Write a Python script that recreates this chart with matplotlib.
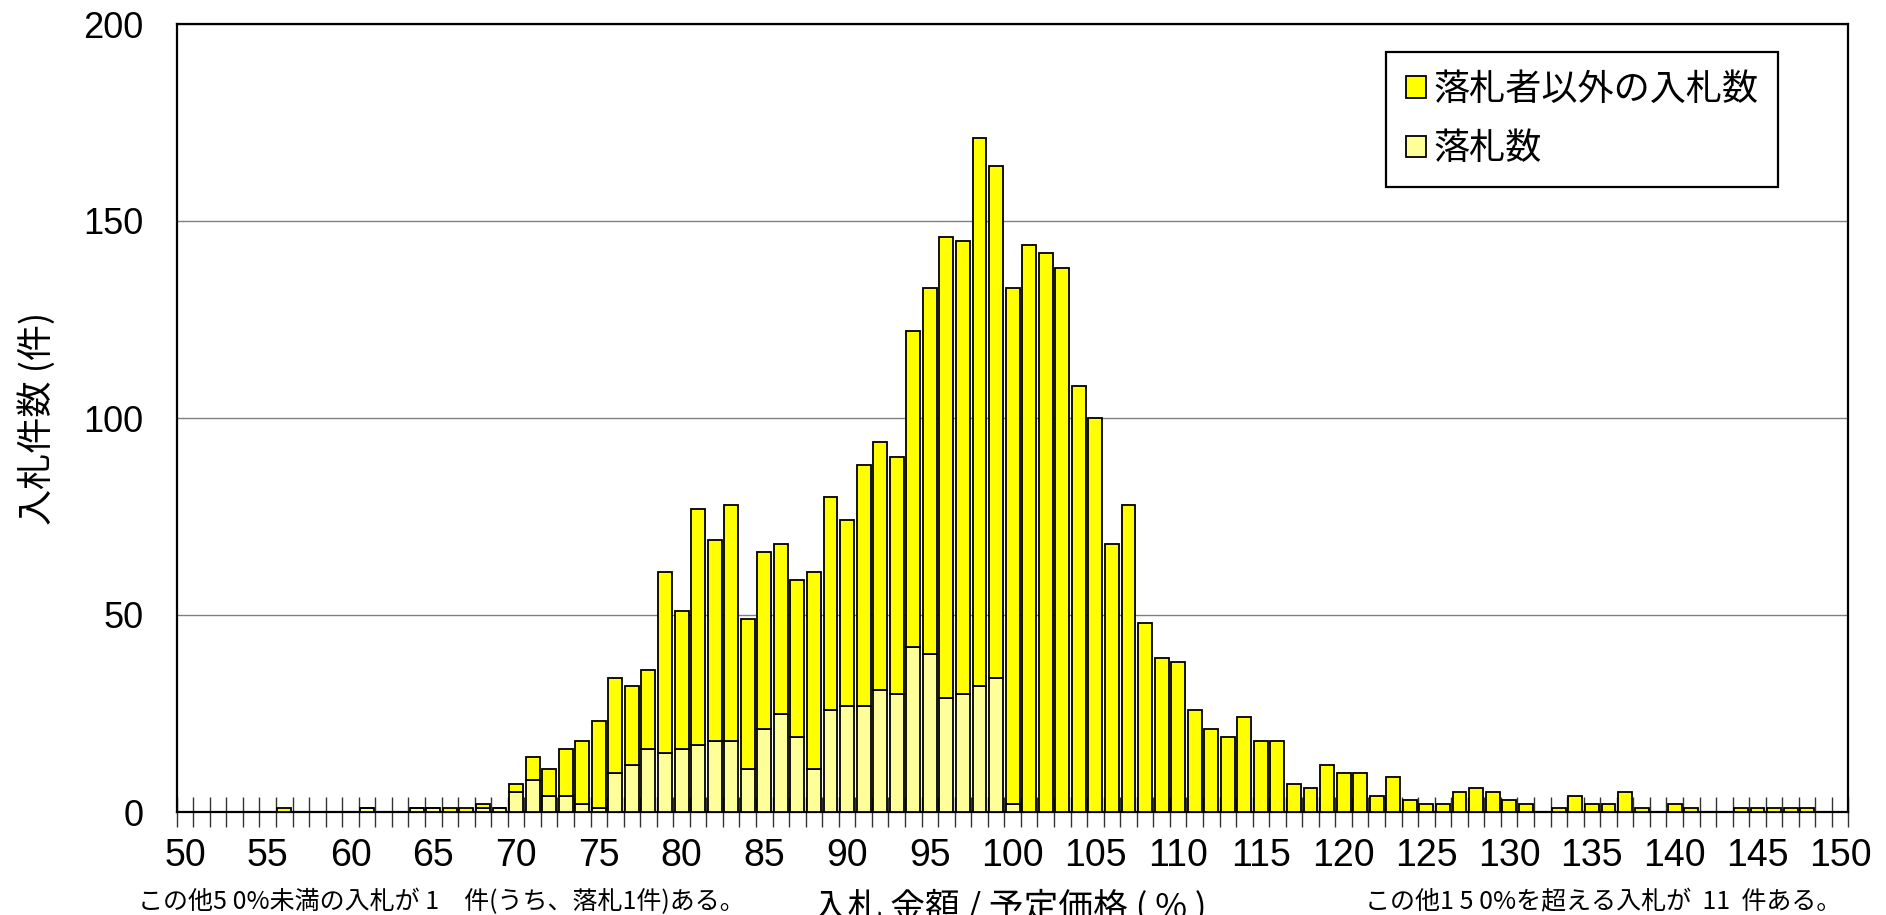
import matplotlib
matplotlib.use('Agg')
import matplotlib.pyplot as plt
import numpy as np

# 入札金額／予定価格(%) の区分 50..150
pct = list(range(50, 151))

# 落札数
winners = [0, 0, 0, 0, 0, 0, 0, 0, 0, 0,
           0, 1, 0, 0, 1, 1, 0, 0, 1, 1,
           5, 8, 4, 4, 2, 1, 10, 12, 16, 15,
           16, 17, 18, 18, 11, 21, 25, 19, 11, 26,
           27, 27, 31, 30, 42, 40, 29, 30, 32, 34,
           2] + [0] * 50

# 落札者以外の入札数
others = [0, 0, 0, 0, 0, 0, 1, 0, 0, 0,
          0, 0, 0, 0, 0, 0, 1, 1, 1, 0,
          2, 6, 7, 12, 16, 22, 24, 20, 20, 46,
          35, 60, 51, 60, 38, 45, 43, 40, 50, 54,
          47, 61, 63, 60, 80, 93, 117, 115, 139, 130,
          131, 144, 142, 138, 108, 100, 68, 78, 48, 39,
          38, 26, 21, 19, 24, 18, 18, 7, 6, 12,
          10, 10, 4, 9, 3, 2, 2, 5, 6, 5,
          3, 2, 0, 1, 4, 2, 2, 5, 1, 0,
          2, 1, 0, 0, 1, 1, 1, 1, 1, 0,
          0]

xticks = list(range(50, 151, 5))
yticks = [0, 50, 100, 150, 200]

JP = ['Noto Sans CJK JP', 'DejaVu Sans']
NUM = ['Liberation Sans', 'DejaVu Sans']
NARROW = ['Liberation Sans Narrow', 'Liberation Sans', 'DejaVu Sans']

fig = plt.figure(figsize=(18.86, 9.15), dpi=100)
ax = fig.add_axes([176.7 / 1886, 1 - 812 / 915, (1848.5 - 176.7) / 1886, (812 - 24) / 915])

b1 = ax.bar(pct, winners, width=0.84, color='#FFFF99', edgecolor='black', linewidth=1.3, zorder=3)
b2 = ax.bar(pct, others, width=0.84, bottom=winners, color='#FFFF00', edgecolor='black', linewidth=1.3, zorder=3)

ax.set_xlim(49.5, 150.5)
ax.set_ylim(0, 200)
ax.set_yticks(yticks)
ax.set_yticklabels([str(v) for v in yticks], family=NUM, fontsize=26)
ax.tick_params(axis='y', length=0, pad=24)

ax.set_xticks(xticks)
ax.set_xticklabels([str(v) for v in xticks], family=NARROW, fontsize=27)
ax.set_xticks(np.arange(49.5, 151, 1), minor=True)
ax.tick_params(axis='x', which='major', length=0, pad=19)
ax.tick_params(axis='x', which='minor', direction='inout', length=22, width=1.0, color='#333333')

ax.yaxis.grid(True, color='#808080', linewidth=1.0, zorder=0)
ax.set_axisbelow(True)
for s in ax.spines.values():
    s.set_linewidth(1.6)
    s.set_color('black')

ax.set_ylabel('入札件数 (件)', family=JP, fontsize=26, labelpad=0)
ax.yaxis.set_label_coords(-(176.7 - 56) / 1672, 0.5)

leg = ax.legend([b2, b1], ['落札者以外の入札数', '落札数'], prop={'family': JP, 'size': 26},
                loc='upper right', bbox_to_anchor=(0.958, 0.9645), frameon=True, fancybox=False,
                edgecolor='black', framealpha=1, handlelength=0.55, handleheight=0.55,
                handletextpad=0.2, borderpad=0.55, labelspacing=0.65, borderaxespad=0)
leg.get_frame().set_linewidth(1.6)

fig.text(1010 / 1886, 1 - 889 / 915, '入札 金額 / 予定価格 ( % )', family=JP, fontsize=25,
         ha='center', va='top')
fig.text(138 / 1886, 1 - 902 / 915, 'この他5 0%未満の入札が 1　件(うち、落札1件)ある。', family=JP,
         fontsize=18, ha='left', va='center')
fig.text(1365 / 1886, 1 - 902 / 915, 'この他1 5 0%を超える入札が  11  件ある。', family=JP,
         fontsize=18, ha='left', va='center')

fig.savefig('out.png', dpi=100)
